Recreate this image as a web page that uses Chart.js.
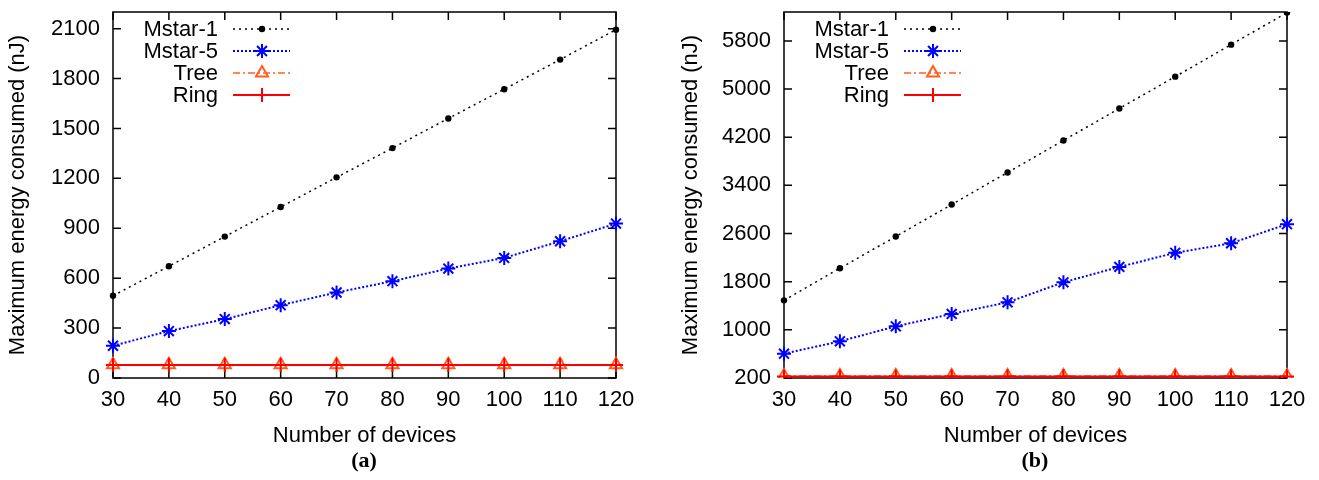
<!DOCTYPE html>
<html lang="en">
<head>
<meta charset="UTF-8">
<title>Maximum energy consumed</title>
<script src="https://cdn.jsdelivr.net/npm/chart.js"></script>
<style>
  body { margin: 0; background: #fff; width: 1319px; height: 480px; overflow: hidden; position: relative; }
  canvas { position: absolute; top: 0; }
  #chartA { left: 0; }
  #chartB { left: 660px; }
  .cap { position: absolute; top: 447px; width: 100px; text-align: center;
         font: bold 22px 'Liberation Serif', 'DejaVu Serif', serif; }
</style>
</head>
<body>
<canvas id="chartA" width="650" height="480"></canvas>
<canvas id="chartB" width="659" height="480"></canvas>
<div class="cap" style="left:314px">(a)</div>
<div class="cap" style="left:985px">(b)</div>

<script>
// data
const devices = [30, 40, 50, 60, 70, 80, 90, 100, 110, 120];

const mstar1A = [494, 672, 850, 1028, 1206, 1382, 1560, 1736, 1914, 2094];
const mstar5A = [194, 282, 354, 438, 514, 582, 658, 722, 822, 928];
const treeA   = [80, 80, 80, 80, 80, 80, 80, 80, 80, 80];
const ringA   = [78, 78, 78, 78, 78, 78, 78, 78, 78, 78];
const yTicksA = [0, 300, 600, 900, 1200, 1500, 1800, 2100];

const mstar1B = [1490, 2023, 2550, 3082, 3614, 4146, 4678, 5206, 5738, 6270];
const mstar5B = [604, 809, 1058, 1264, 1457, 1790, 2046, 2279, 2438, 2755];
const treeB   = [232, 232, 232, 232, 232, 232, 232, 232, 232, 232];
const ringB   = [225, 225, 225, 225, 225, 225, 225, 225, 225, 225];
const yTicksB = [200, 1000, 1800, 2600, 3400, 4200, 5000, 5800];

const FONT = "'Liberation Sans', Arial, sans-serif";
const FS = 22;

// box + inward ticks on all four sides (gnuplot style)
const framePlugin = {
  id: 'frame',
  beforeDatasetsDraw(chart) {
    const {ctx, chartArea: a, scales: {x, y}} = chart;
    ctx.save();
    ctx.strokeStyle = '#000';
    ctx.lineWidth = 1.5;
    ctx.beginPath();
    y.ticks.forEach(t => {
      const py = y.getPixelForValue(t.value);
      ctx.moveTo(a.left, py); ctx.lineTo(a.left + 8, py);
      ctx.moveTo(a.right, py); ctx.lineTo(a.right - 8, py);
    });
    x.ticks.forEach((t, i) => {
      const px = x.getPixelForTick(i);
      ctx.moveTo(px, a.bottom); ctx.lineTo(px, a.bottom - 8);
      ctx.moveTo(px, a.top); ctx.lineTo(px, a.top + 8);
    });
    ctx.stroke();
    ctx.strokeRect(a.left, a.top, a.right - a.left, a.bottom - a.top);
    ctx.restore();
  }
};

// key inside the plot, top left, text right-aligned
const keyPlugin = {
  id: 'key',
  afterDatasetsDraw(chart) {
    const {ctx, chartArea: a} = chart;
    ctx.save();
    ctx.font = FS + 'px ' + FONT;
    ctx.textAlign = 'right';
    ctx.textBaseline = 'middle';
    chart.data.datasets.forEach((ds, i) => {
      const yy = a.top + 17 + i * 22;
      ctx.fillStyle = '#000';
      ctx.fillText(ds.label, a.left + 105, yy + 1);
      ctx.strokeStyle = ds.borderColor;
      ctx.lineWidth = ds.borderWidth;
      ctx.setLineDash(ds.borderDash || []);
      ctx.beginPath();
      ctx.moveTo(a.left + 120, yy);
      ctx.lineTo(a.left + 177, yy);
      ctx.stroke();
      ctx.setLineDash([]);
      ctx.fillStyle = ds.pointBackgroundColor;
      ctx.lineWidth = ds.pointBorderWidth;
      Chart.helpers.drawPoint(ctx, {
        pointStyle: ds.pointStyle, rotation: 0,
        radius: ds.pointRadius, borderWidth: ds.pointBorderWidth
      }, a.left + 149, yy);
    });
    ctx.restore();
  }
};

function makeChart(id, m1, m5, tree, ring, yMin, yMax, yTicks, axisW, titlePad, padRight) {
  return new Chart(document.getElementById(id), {
    type: 'line',
    data: {
      labels: devices,
      datasets: [
        { label: 'Mstar-1', data: m1, borderColor: '#000', borderWidth: 1.5, borderDash: [2, 4],
          pointStyle: 'circle', pointRadius: 3.2, pointBackgroundColor: '#000', pointBorderWidth: 0, order: 3 },
        { label: 'Mstar-5', data: m5, borderColor: '#0000ff', borderWidth: 2, borderDash: [2, 2],
          pointStyle: 'star', pointRadius: 7, pointBackgroundColor: '#0000ff', pointBorderWidth: 2, order: 2 },
        { label: 'Tree', data: tree, borderColor: '#ff6020', borderWidth: 1.5, borderDash: [7, 3, 2, 3],
          pointStyle: 'triangle', pointRadius: 7, pointBackgroundColor: 'rgba(0,0,0,0)', pointBorderWidth: 2, order: 1 },
        { label: 'Ring', data: ring, borderColor: '#ff0000', borderWidth: 2,
          pointStyle: 'cross', pointRadius: 7, pointBackgroundColor: '#ff0000', pointBorderWidth: 2, order: 0 }
      ]
    },
    options: {
      responsive: false,
      animation: false,
      layout: { padding: { top: 12, right: padRight, left: 0, bottom: 0 } },
      plugins: { legend: { display: false }, tooltip: { enabled: false } },
      elements: { line: { tension: 0, fill: false } },
      scales: {
        x: {
          type: 'category',
          offset: false,
          grid: { display: false, drawTicks: false },
          border: { display: false },
          ticks: { color: '#000', font: { family: FONT, size: FS }, padding: 9, maxRotation: 0, autoSkip: false },
          title: { display: true, text: 'Number of devices', color: '#000',
                   font: { family: FONT, size: FS }, padding: { top: 0, bottom: 31 } },
          afterFit(s) { s.height = 102; s.paddingLeft = 0; s.paddingRight = 0; }
        },
        y: {
          type: 'linear',
          min: yMin,
          max: yMax,
          grid: { display: false, drawTicks: false },
          border: { display: false },
          ticks: { color: '#000', font: { family: FONT, size: FS }, padding: 13,
                   callback: v => String(v) },
          afterBuildTicks(s) { s.ticks = yTicks.map(v => ({ value: v })); },
          title: { display: true, text: 'Maximum energy consumed (nJ)', color: '#000',
                   font: { family: FONT, size: FS }, padding: { top: titlePad, bottom: 0 } },
          afterFit(s) { s.width = axisW; s.paddingTop = 0; s.paddingBottom = 0; }
        }
      }
    },
    plugins: [framePlugin, keyPlugin]
  });
}

makeChart('chartA', mstar1A, mstar5A, treeA, ringA, 0, 2200, yTicksA, 113, 5, 34);
makeChart('chartB', mstar1B, mstar5B, treeB, ringB, 200, 6280, yTicksB, 124, 18, 32);
</script>
</body>
</html>
